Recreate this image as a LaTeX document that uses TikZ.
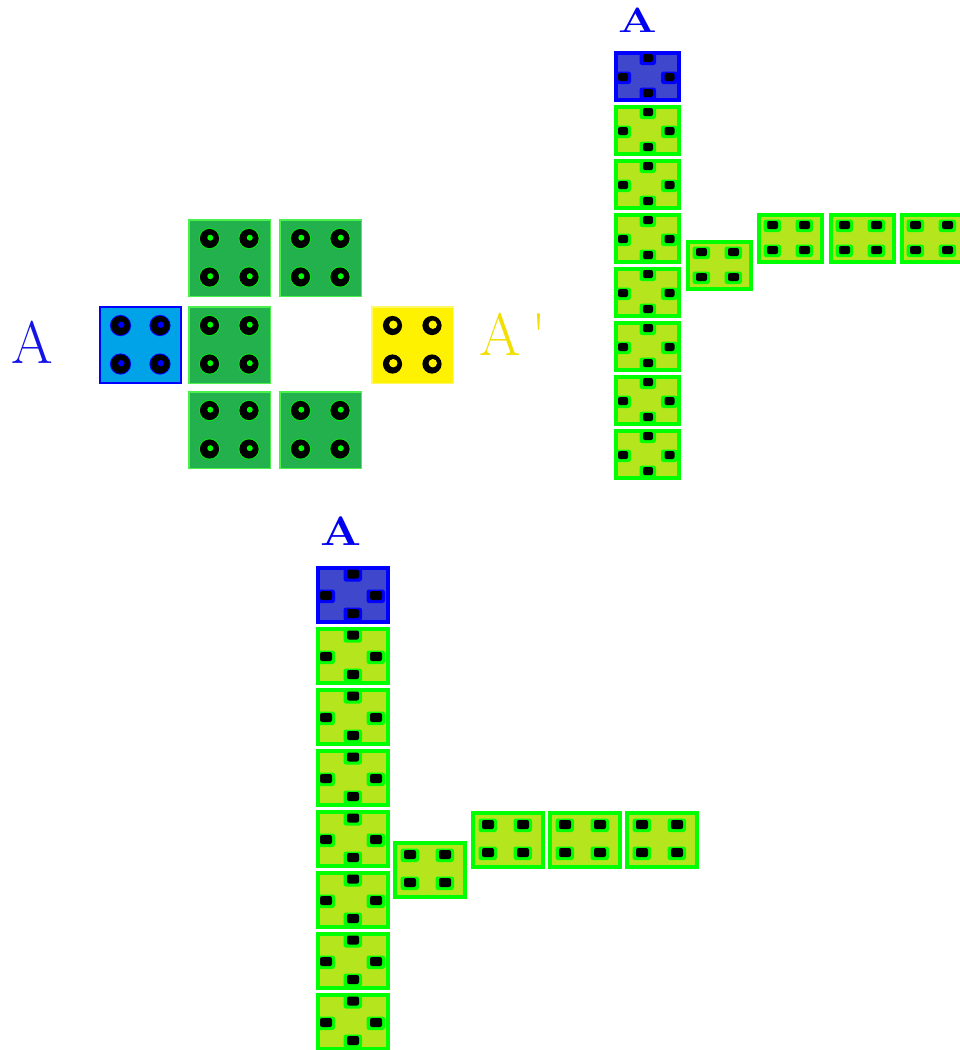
\documentclass[tikz,border=0pt]{standalone}
\usetikzlibrary{calc}
\definecolor{lime}{HTML}{B5E61D}
\definecolor{neon}{HTML}{00FF00}
\definecolor{indigo}{HTML}{3F48CC}
\definecolor{pureblue}{HTML}{0000FF}
\definecolor{pgreen}{HTML}{22B14C}
\definecolor{pgreenb}{HTML}{4CF04C}
\definecolor{turq}{HTML}{00A2E8}
\definecolor{pyellow}{HTML}{FFF200}
\definecolor{ltext}{HTML}{1414E6}
\definecolor{atext}{HTML}{0000F0}
\definecolor{ytext}{HTML}{F2DE00}
\tikzset{
  bigsq/.style={draw, line width=1.5pt, minimum width=81.5pt, minimum height=76.5pt, inner sep=0pt, outer sep=0pt},
  gsq/.style={bigsq, fill=pgreen, draw=pgreenb},
  bsq/.style={bigsq, fill=turq, draw=pureblue, line width=2pt},
  ysq/.style={bigsq, fill=pyellow, draw=pyellow!60!white},
  trbox/.style={draw, line width=4pt, minimum width=63pt, minimum height=47pt, inner sep=0pt, outer sep=0pt},
  btbox/.style={draw, line width=4pt, minimum width=70pt, minimum height=54pt, inner sep=0pt, outer sep=0pt},
  limebox/.style={fill=lime, draw=neon},
  indbox/.style={fill=indigo, draw=pureblue},
  biglabel/.style={anchor=base, inner sep=0pt, font=\fontsize{60}{60}\selectfont},
  smalllabel/.style={anchor=base, inner sep=0pt, text=atext},
}
% big round dot: node, dx, dy, halo, inner, inner radius
\newcommand\bdot[6]{%
  \begin{scope}[shift={($(#1.center)+(#2,#3)$)}]
    \fill[#4] (0,0) circle (10.6pt);
    \fill[black] (0,0) circle (9.6pt);
    \fill[#5] (0.8,-0.8) circle (#6pt);
  \end{scope}}
\newcommand\bdots[4]{%
  \bdot{#1}{-20}{-19.5}{#2}{#3}{#4}\bdot{#1}{19.5}{-19.5}{#2}{#3}{#4}%
  \bdot{#1}{-20}{19}{#2}{#3}{#4}\bdot{#1}{19.5}{19}{#2}{#3}{#4}}
% small square dot: node, dx, dy, halo, half width, half height
\newcommand\ldot[6]{%
  \begin{scope}[shift={($(#1.center)+(#2,#3)$)}]
    \fill[#4, rounded corners=2.5pt] ({-#5-3.5},{-#6-1.5}) rectangle ({#5+3},{#6+3});
    \fill[black, rounded corners=2pt] (-#5,-#6) rectangle (#5,#6);
  \end{scope}}
\newcommand\trcross[2]{%
  \ldot{#1}{0.5}{-18.5}{#2}{5}{4}\ldot{#1}{-24.5}{0.5}{#2}{5}{4}%
  \ldot{#1}{22}{0.5}{#2}{5}{4}\ldot{#1}{0.5}{16.5}{#2}{5}{4}}
\newcommand\trquad[1]{%
  \ldot{#1}{-18}{-13.5}{neon}{5.5}{4}\ldot{#1}{14}{-13.5}{neon}{5.5}{4}%
  \ldot{#1}{-18}{11.5}{neon}{5.5}{4}\ldot{#1}{14}{11.5}{neon}{5.5}{4}}
\newcommand\btcross[2]{%
  \ldot{#1}{0}{-21}{#2}{6}{4.5}\ldot{#1}{-27}{0.5}{#2}{6}{4.5}%
  \ldot{#1}{23}{0.5}{#2}{6}{4.5}\ldot{#1}{0}{18.5}{#2}{6}{4.5}}
\newcommand\btquad[1]{%
  \ldot{#1}{-20}{-15.5}{neon}{6}{4.5}\ldot{#1}{15}{-15.5}{neon}{6}{4.5}%
  \ldot{#1}{-20}{12.5}{neon}{6}{4.5}\ldot{#1}{15}{12.5}{neon}{6}{4.5}}
\begin{document}
\begin{tikzpicture}[x=1pt,y=-1pt]
\useasboundingbox (0,0) rectangle (960,1050);
\clip (0,0) rectangle (960,1050);

% ---------- left group ----------
\node[biglabel, text=ltext] (labA) at (32,363) {A};
\node[bsq] (blue) at (140.5,345) {};
\bdots{blue}{pureblue}{pureblue}{3.2}
\node[gsq] (g1) at (229.5,258) {};
\node[gsq] (g2) at (320.5,258) {};
\node[gsq] (g3) at (229.5,345) {};
\node[gsq] (g4) at (229.5,430) {};
\node[gsq] (g5) at (320.5,430) {};
\foreach \n in {g1,g2,g3,g4,g5} {\bdots{\n}{neon!70!pgreen}{neon}{3}}
\node[ysq] (yel) at (412.5,345) {};
\bdots{yel}{pyellow}{pyellow}{4.2}
\node[biglabel, text=ytext, anchor=base west] (labAp) at (479,355) {A\hspace{11pt}\textquotesingle};

% ---------- top right group ----------
\node[smalllabel, xscale=1.3, font=\bfseries\fontsize{35}{35}\selectfont] (labT) at (637.5,32) {A};
\node[trbox, indbox] (tc0) at (647.5,76.5) {};
\trcross{tc0}{pureblue}
\foreach \i/\yy in {1/130.5,2/184.5,3/238.5,4/292.5,5/346.5,6/400.5,7/454.5} {
  \node[trbox, limebox] (tc\i) at (647.5,\yy) {};
  \trcross{tc\i}{neon}
}
\foreach \i/\xx/\yy in {1/719.5/265.5,2/790.5/238.5,3/862.5/238.5,4/933.5/238.5} {
  \node[trbox, limebox] (th\i) at (\xx,\yy) {};
  \trquad{th\i}
}

% ---------- bottom group ----------
\node[smalllabel, xscale=1.18, font=\bfseries\fontsize{41}{41}\selectfont] (labB) at (341,545) {A};
\node[btbox, indbox] (bc0) at (353,595) {};
\btcross{bc0}{pureblue}
\foreach \i/\yy in {1/656,2/717,3/778,4/839,5/900,6/961,7/1022} {
  \node[btbox, limebox] (bc\i) at (353,\yy) {};
  \btcross{bc\i}{neon}
}
\foreach \i/\xx/\yy in {1/430/870,2/508/840,3/585/840,4/662/840} {
  \node[btbox, limebox] (bh\i) at (\xx,\yy) {};
  \btquad{bh\i}
}
\end{tikzpicture}
\end{document}
